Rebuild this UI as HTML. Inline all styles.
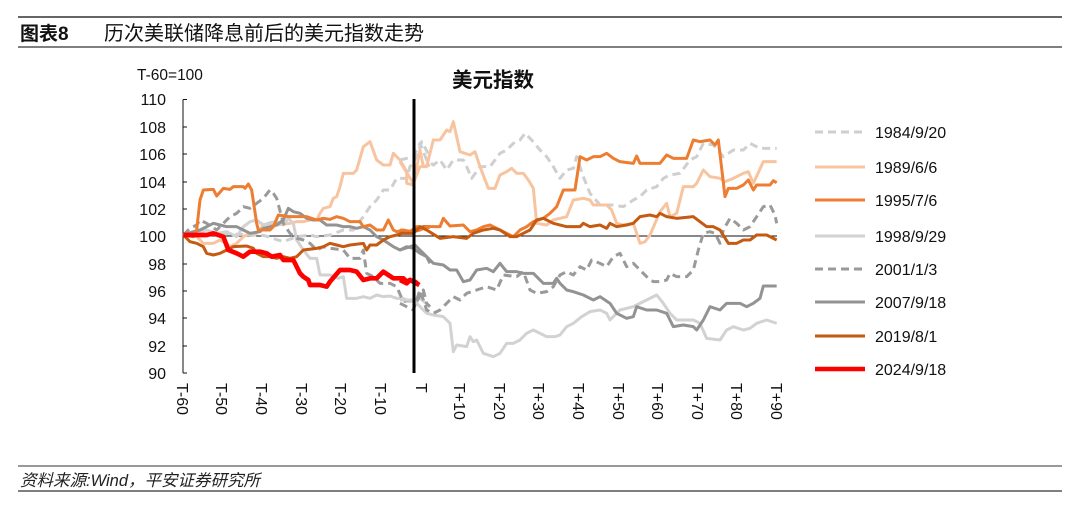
<!DOCTYPE html>
<html><head><meta charset="utf-8"><style>
body{margin:0;background:#fff;width:1080px;height:511px;overflow:hidden}
svg{display:block}
text{font-family:"Liberation Sans","Noto Sans CJK SC",sans-serif}
</style></head><body>
<svg width="1080" height="511" viewBox="0 0 1080 511">
<line x1="18" y1="17" x2="1062" y2="17" stroke="#333" stroke-width="1.5"/>
<text x="20" y="40" font-size="19" font-weight="bold" fill="#111">图表8</text>
<text x="104" y="40" font-size="20" fill="#111">历次美联储降息前后的美元指数走势</text>
<line x1="18" y1="47" x2="1062" y2="47" stroke="#333" stroke-width="1.2"/>
<line x1="18" y1="466" x2="1062" y2="466" stroke="#333" stroke-width="1"/>
<text x="20" y="486" font-size="16.5" font-style="italic" fill="#222">资料来源:Wind，平安证券研究所</text>
<line x1="18" y1="491" x2="1062" y2="491" stroke="#333" stroke-width="1.2"/>

<text x="137" y="80" font-size="15.5" fill="#111">T-60=100</text>
<text x="493" y="87" font-size="20.5" font-weight="bold" text-anchor="middle" fill="#111">美元指数</text>

<g font-size="16" fill="#111" text-anchor="end">
<text x="166" y="105">110</text><text x="166" y="133">108</text><text x="166" y="160">106</text>
<text x="166" y="188">104</text><text x="166" y="215">102</text><text x="166" y="242">100</text>
<text x="166" y="270">98</text><text x="166" y="297">96</text><text x="166" y="324">94</text>
<text x="166" y="352">92</text><text x="166" y="379">90</text>
</g>
<g stroke="#111" stroke-width="1">
<line x1="183" y1="99.5" x2="183" y2="373"/>
<line x1="183" y1="99.5" x2="187" y2="99.5"/><line x1="183" y1="127" x2="187" y2="127"/>
<line x1="183" y1="154" x2="187" y2="154"/><line x1="183" y1="182" x2="187" y2="182"/>
<line x1="183" y1="209" x2="187" y2="209"/><line x1="183" y1="264" x2="187" y2="264"/>
<line x1="183" y1="291" x2="187" y2="291"/><line x1="183" y1="318" x2="187" y2="318"/>
<line x1="183" y1="346" x2="187" y2="346"/><line x1="183" y1="373" x2="187" y2="373"/>
<line x1="183" y1="236" x2="777" y2="236"/>
</g>
<g font-size="16" fill="#111">
<text transform="translate(177,383) rotate(90)">T-60</text>
<text transform="translate(216,383) rotate(90)">T-50</text>
<text transform="translate(256,383) rotate(90)">T-40</text>
<text transform="translate(296,383) rotate(90)">T-30</text>
<text transform="translate(335,383) rotate(90)">T-20</text>
<text transform="translate(375,383) rotate(90)">T-10</text>
<text transform="translate(416,383) rotate(90)">T</text>
<text transform="translate(454,383) rotate(90)">T+10</text>
<text transform="translate(494,383) rotate(90)">T+20</text>
<text transform="translate(533,383) rotate(90)">T+30</text>
<text transform="translate(573,383) rotate(90)">T+40</text>
<text transform="translate(613,383) rotate(90)">T+50</text>
<text transform="translate(652,383) rotate(90)">T+60</text>
<text transform="translate(692,383) rotate(90)">T+70</text>
<text transform="translate(731,383) rotate(90)">T+80</text>
<text transform="translate(771,383) rotate(90)">T+90</text>
</g>

<g fill="none" stroke-linejoin="round" stroke-width="9">
<g transform="translate(130,90) scale(0.33333)">
<polyline stroke="#cfcfcf" stroke-dasharray="24,15" points="160,435 200,435 300,432 400,436 460,455 500,440 540,435 560,440 600,435 640,420 670,420 680,405 700,380 720,350 740,330 760,300 780,300 800,265 830,265 840,230 860,200 875,155 900,200"/>
<polyline stroke="#f8c4a0" points="160,435 200,440 220,460 250,460 270,450 290,460 300,470 320,460 340,440 360,430 380,430 400,405 420,400 440,405 480,400 500,395 520,395 540,390 560,390 570,370 580,355 600,350 610,325 620,320 630,290 640,250 670,250 680,240 700,170 720,155 740,210 760,225 780,225 790,190 810,210 830,245 830,280 850,285 870,180 880,230 900,225"/>
<polyline stroke="#d2d2d2" points="160,435 190,430 230,420 260,430 290,425 320,440 340,410 360,395 380,390 400,405 420,398 440,395 460,405 475,385 490,400 500,450 520,480 540,505 560,505 570,555 600,555 625,565 640,560 650,625 680,625 700,620 720,625 740,615 760,620 780,618 800,625 820,625 840,635 870,625 900,650"/>
<polyline stroke="#9a9a9a" stroke-dasharray="24,15" points="160,435 180,415 200,405 210,390 230,400 260,420 280,400 300,380 320,370 340,350 360,355 380,340 400,325 420,300 430,310 440,325 460,400 480,430 500,445 520,450 540,460 560,480 580,470 600,475 640,480 660,505 690,505 700,480 710,550 730,560 750,580 780,580 800,590 820,635 840,630 860,635 880,600 890,640 900,650"/>
<polyline stroke="#939393" points="160,435 190,425 210,420 230,410 250,400 270,405 290,410 320,410 340,420 360,430 390,425 400,415 420,410 440,405 460,390 475,355 490,365 510,370 530,385 550,390 570,390 590,405 620,405 640,410 660,410 680,415 700,410 720,420 740,440 760,450 790,470 810,480 830,470 850,475 870,490 890,500 900,520"/>
<polyline stroke="#ed7d31" points="160,435 190,440 200,420 210,330 220,300 250,298 260,318 280,295 300,298 310,290 340,290 345,295 355,282 365,300 380,400 385,420 420,420 430,410 445,375 475,380 530,380 560,390 580,385 600,388 620,380 640,385 660,395 690,395 700,410 720,405 740,420 760,420 775,390 790,420 800,425 820,420 840,425 860,410 900,412"/>
<polyline stroke="#c55a11" points="160,435 180,455 200,460 220,470 230,490 250,495 270,490 290,480 310,470 350,468 370,475 380,490 400,500 420,500 440,505 460,500 480,505 500,500 520,480 560,475 580,470 600,460 620,465 640,470 660,465 700,460 710,480 720,465 740,465 760,450 780,440 800,435 820,428 840,425 860,420 880,410 900,410"/>
<polyline stroke="#ff0000" stroke-width="14" points="160,435 230,435 250,430 280,440 295,480 320,490 340,500 360,485 390,485 410,490 425,500 450,495 460,510 490,510 510,550 520,560 535,570 540,585 570,585 590,590 600,575 630,540 660,540 680,545 700,570 720,565 740,565 760,545 775,555 790,565 820,565 830,575 840,570 868,585"/>
</g>
<g transform="translate(400,90) scale(0.33333)">
<polyline stroke="#cfcfcf" stroke-dasharray="24,15" points="0,210 40,200 60,160 80,210 100,225 120,210 140,240 160,210 190,210 200,230 215,265 240,230 270,230 300,190 320,180 340,160 360,150 375,130 395,150 420,180 440,200 460,230 480,265 500,240 520,235 530,200 550,260 570,310 600,345 640,345 670,350 700,330 720,320 740,300 770,290 790,265 810,255 840,250 870,210 890,200 910,160 940,165 970,200 1000,180 1030,180 1050,160 1080,175 1130,175"/>
<polyline stroke="#f8c4a0" points="0,215 40,280 60,230 80,230 100,150 120,150 140,120 150,125 160,95 180,185 210,195 225,185 240,230 265,295 285,295 300,255 320,245 335,235 350,250 370,250 385,270 400,295 410,400 440,405 460,390 480,385 500,380 520,330 550,325 570,330 580,345 620,345 635,360 650,400 670,405 700,400 720,460 735,455 750,435 780,365 800,340 810,380 830,370 850,290 880,290 890,280 910,240 930,260 960,265 975,275 1000,265 1030,250 1045,245 1060,280 1090,215 1130,215"/>
<polyline stroke="#d2d2d2" points="0,630 40,630 80,670 100,675 130,680 150,700 160,785 170,765 200,770 210,740 220,755 230,750 250,790 280,800 300,790 320,760 340,760 360,750 380,730 400,720 420,730 440,740 465,740 480,735 500,710 520,700 545,680 570,665 600,660 620,670 630,690 660,660 700,650 740,630 770,615 790,640 810,670 830,690 880,690 900,700 920,745 960,750 980,720 1000,710 1030,720 1050,715 1070,700 1100,690 1130,700"/>
<polyline stroke="#9a9a9a" stroke-dasharray="24,15" points="0,640 40,660 60,600 80,660 100,670 120,660 140,640 160,620 180,630 200,610 230,600 260,590 290,600 310,555 350,560 370,545 390,600 410,610 440,605 460,590 480,555 500,545 520,555 540,530 560,540 575,510 600,520 620,530 640,500 660,490 680,530 700,520 720,540 740,560 760,575 780,575 800,570 810,550 830,560 860,560 880,540 895,480 910,430 930,425 945,430 960,460 970,420 990,385 1010,400 1030,420 1050,410 1070,380 1090,350 1110,345 1125,375 1130,400"/>
<polyline stroke="#939393" points="0,480 30,470 45,465 60,480 80,500 100,520 130,525 150,540 170,540 190,575 210,570 230,540 260,535 280,545 300,520 320,545 350,545 370,550 400,550 430,580 460,580 470,565 480,580 500,600 520,605 550,615 580,630 600,620 630,640 650,670 680,685 700,680 710,650 740,660 770,660 800,670 820,710 850,705 880,710 890,720 910,690 930,650 960,660 980,640 1020,640 1040,650 1060,640 1080,625 1090,588 1130,588"/>
<polyline stroke="#ed7d31" points="0,420 40,425 60,420 80,410 120,410 130,385 150,408 190,405 210,425 230,420 250,410 270,405 290,415 320,430 340,440 360,420 380,410 400,395 430,385 450,370 470,350 490,300 525,300 540,200 560,210 580,200 600,200 620,190 640,205 660,215 700,220 710,198 720,220 780,220 800,195 820,205 860,205 880,150 900,155 930,150 945,165 955,150 975,320 985,295 1010,295 1030,285 1045,270 1060,300 1070,285 1110,285 1120,272 1130,278"/>
<polyline stroke="#c55a11" points="0,430 40,430 60,410 80,420 120,445 160,440 200,445 220,430 250,420 280,415 300,420 330,440 350,440 370,430 390,420 410,390 430,385 460,400 500,410 540,410 550,400 570,410 600,405 620,415 630,400 650,410 680,405 700,400 720,380 750,375 770,380 780,370 800,380 830,385 880,380 900,395 920,410 940,410 960,420 985,460 1010,460 1030,450 1050,450 1070,435 1100,435 1130,450"/>
<polyline stroke="#ff0000" stroke-width="14" points="0,570 20,580 30,570 45,575 57,585"/>
</g>
</g>
<line x1="414" y1="99" x2="414" y2="373" stroke="#000" stroke-width="3"/>

<g fill="none" stroke-width="3">
<line x1="815" y1="132" x2="865" y2="132" stroke="#cfcfcf" stroke-dasharray="8,5"/>
<line x1="815" y1="167" x2="865" y2="167" stroke="#f8c4a0"/>
<line x1="815" y1="200" x2="865" y2="200" stroke="#ed7d31"/>
<line x1="815" y1="236" x2="865" y2="236" stroke="#d2d2d2"/>
<line x1="815" y1="269" x2="865" y2="269" stroke="#9a9a9a" stroke-dasharray="8,5"/>
<line x1="815" y1="302" x2="865" y2="302" stroke="#939393"/>
<line x1="815" y1="336" x2="865" y2="336" stroke="#c55a11"/>
<line x1="815" y1="369" x2="865" y2="369" stroke="#ff0000" stroke-width="4.5"/>
</g>
<g font-size="16" fill="#111">
<text x="875" y="138">1984/9/20</text><text x="875" y="173">1989/6/6</text>
<text x="875" y="206">1995/7/6</text><text x="875" y="242">1998/9/29</text>
<text x="875" y="275">2001/1/3</text><text x="875" y="308">2007/9/18</text>
<text x="875" y="342">2019/8/1</text><text x="875" y="375">2024/9/18</text>
</g>
</svg>
</body></html>
